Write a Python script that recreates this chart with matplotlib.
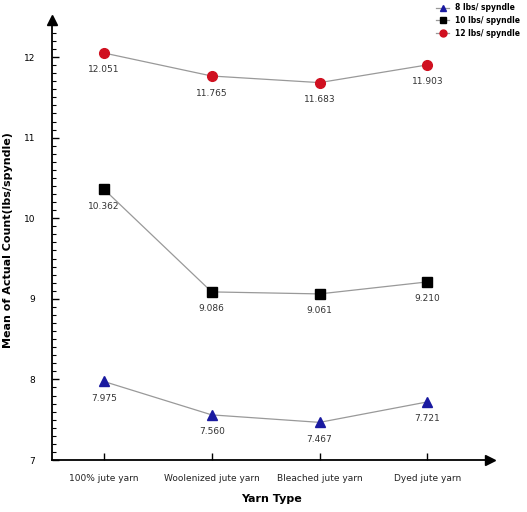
import numpy as np
import matplotlib.pyplot as plt
from matplotlib.ticker import MultipleLocator

# Datos
tipos = ["100% jute yarn", "Woolenized jute yarn", "Bleached jute yarn", "Dyed jute yarn"]
s8 = [7.975, 7.560, 7.467, 7.721]
s10 = [10.362, 9.086, 9.061, 9.210]
s12 = [12.051, 11.765, 11.683, 11.903]
etiquetas_serie = ["8 lbs/ spyndle", "10 lbs/ spyndle", "12 lbs/ spyndle"]


def graficar():
    fig = plt.figure(figsize=(5.27, 5.12), dpi=100)
    ax = fig.add_axes([52 / 527, 52 / 512, 438 / 527, 440 / 512])
    x = np.arange(len(tipos))

    series = [(s8, "^", "#1a1aa0"), (s10, "s", "black"), (s12, "o", "#d01020")]

    handles = []
    for (datos, marca, color), nombre in zip(series, etiquetas_serie):
        h, = ax.plot(x, datos, color="#999999", lw=0.9, marker=marca, ms=7,
                     mfc=color, mec=color, label=nombre, zorder=3)
        handles.append(h)
        for xi, v in zip(x, datos):
            ax.annotate(f"{v:.3f}", (xi, v), xytext=(0, -9), textcoords="offset points",
                        ha="center", va="top", fontsize=6.5, color="#333333")

    ax.set_xlim(-0.48, 3.58)
    ax.set_ylim(7, 12.46)
    ax.set_xticks(x)
    ax.set_xticklabels(tipos, fontsize=6.5, color="#222222")
    ax.yaxis.set_major_locator(MultipleLocator(1))
    ax.yaxis.set_minor_locator(MultipleLocator(0.1))
    ax.tick_params(axis="y", direction="in", length=5, width=1, labelsize=6.5, pad=12)
    ax.tick_params(axis="y", which="minor", direction="in", length=3, width=0.8)
    ax.tick_params(axis="x", direction="in", length=5, width=1, pad=10)

    for lado in ["top", "right"]:
        ax.spines[lado].set_visible(False)
    ax.spines["left"].set_linewidth(1.3)
    ax.spines["bottom"].set_linewidth(1.3)

    # flechas en los extremos de los ejes
    ax.plot(1, 0, ">", color="black", ms=7, transform=ax.transAxes, clip_on=False)
    ax.plot(0, 1, "^", color="black", ms=7, transform=ax.transAxes, clip_on=False)

    ax.set_xlabel("Yarn Type", fontsize=8, fontweight="bold", labelpad=8)
    ax.set_ylabel("Mean of Actual Count(lbs/spyndle)", fontsize=8, fontweight="bold", labelpad=8)

    ley = ax.legend(handles=handles, loc="upper right", bbox_to_anchor=(1.075, 1.045),
                    frameon=False, handlelength=1.6, labelspacing=0.5,
                    borderaxespad=0, prop={"size": 5.5, "weight": "bold"})
    for h in ley.legend_handles:
        h.set_markersize(5)

    fig.savefig("out.png", dpi=100)


if __name__ == "__main__":
    graficar()
